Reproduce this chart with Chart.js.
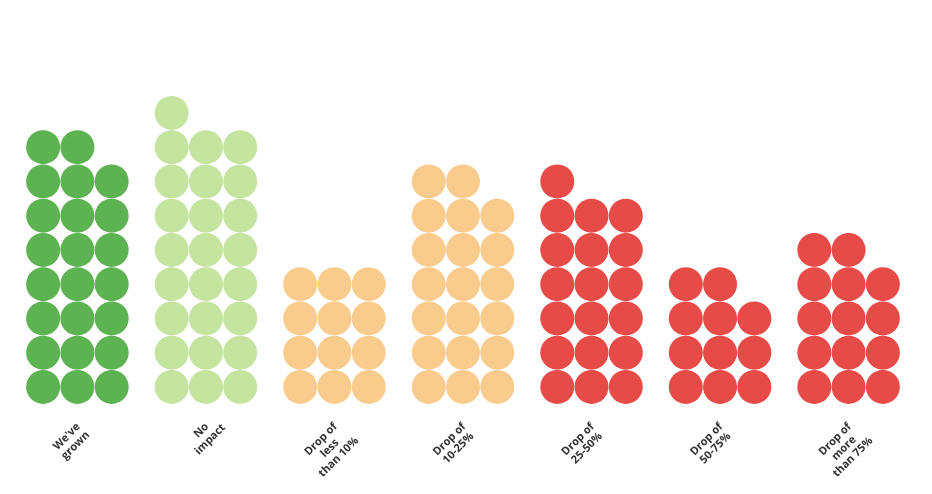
<!DOCTYPE html>
<html>
<head>
<meta charset="utf-8">
<script src="https://cdn.jsdelivr.net/npm/chart.js@4"></script>
<style>
    html, body { margin: 0; padding: 0; background: #fff; }
    #wrap { width: 932px; height: 494px; position: relative; }
</style>
</head>
<body>
<div id="wrap"><canvas id="graph"></canvas></div>
<script>
'use strict';

// one dot per unit, three dots per row
const categories = [
    ["We've", 'grown'],
    ['No', 'impact'],
    ['Drop of', 'less', 'than 10%'],
    ['Drop of', '10-25%'],
    ['Drop of', '25-50%'],
    ['Drop of', '50-75%'],
    ['Drop of', 'more', 'than 75%']
];
const counts = [23, 25, 12, 20, 19, 11, 14];
const colors = ['#5db251', '#c4e4a0', '#f9cb8c', '#f9cb8c', '#e64b48', '#e64b48', '#e64b48'];

const perRow = 3;
const groupStep = 3.75;

function dotsFor(catIndex, count) {
    const pts = [];
    for (let k = 0; k < count; k++) {
        const row = Math.floor(k / perRow);
        const col = k % perRow;
        pts.push({ x: catIndex * groupStep + col - 1, y: row });
    }
    return pts;
}

const datasets = counts.map((c, i) => ({
    label: categories[i].join(' '),
    data: dotsFor(i, c),
    backgroundColor: colors[i],
    borderWidth: 0,
    pointRadius: 17,
    pointHoverRadius: 17
}));

const labelPlugin = {
    id: 'groupLabels',
    afterDraw(chart) {
        const ctx = chart.ctx;
        const xs = chart.scales.x;
        ctx.save();
        ctx.font = 'bold 11px "Open Sans"';
        ctx.fillStyle = '#333333';
        ctx.textAlign = 'center';
        ctx.textBaseline = 'middle';
        categories.forEach((lines, i) => {
            const px = xs.getPixelForValue(i * groupStep) + 1;
            const py = 425;
            const w0 = ctx.measureText(lines[0]).width;
            ctx.save();
            ctx.translate(px, py);
            ctx.rotate(-Math.PI / 4);
            lines.forEach((line, j) => {
                ctx.fillText(line, -w0 / 2, j * 12.5);
            });
            ctx.restore();
        });
        ctx.restore();
    }
};

const ctx = document.getElementById('graph').getContext('2d');
new Chart(ctx, {
    type: 'scatter',
    data: { datasets: datasets },
    options: {
        responsive: true,
        maintainAspectRatio: false,
        animation: false,
        layout: {
            padding: { left: 26, right: 32, top: 9.5, bottom: 90 }
        },
        plugins: {
            legend: { display: false },
            tooltip: { enabled: false }
        },
        scales: {
            x: {
                type: 'linear',
                min: -1.5,
                max: 6 * groupStep + 1.5,
                display: false
            },
            y: {
                type: 'linear',
                min: -0.5,
                max: 10.8,
                display: false
            }
        }
    },
    plugins: [labelPlugin]
});
</script>
</body>
</html>
